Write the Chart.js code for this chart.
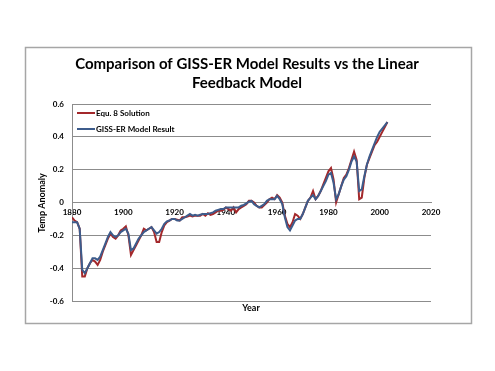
<!DOCTYPE html>
<html>
<head>
<meta charset="utf-8">
<script src="https://cdn.jsdelivr.net/npm/chart.js@4.4.1/dist/chart.umd.min.js"></script>
<style>
html,body{margin:0;padding:0;background:#fff;}
#wrap{width:495px;height:371px;position:relative;}
</style>
</head>
<body>
<div id="wrap"><canvas id="c" width="495" height="371"></canvas></div>
<script>
const years = [];
for (let y = 1880; y <= 2003; y++) years.push(y);

const equ8Solution = [
 -0.09,-0.11,-0.12,-0.16,-0.45,-0.45,-0.40,-0.37,-0.35,-0.36,
 -0.38,-0.35,-0.30,-0.26,-0.22,-0.19,-0.21,-0.22,-0.20,-0.17,
 -0.16,-0.145,-0.20,-0.32,-0.29,-0.26,-0.23,-0.20,-0.16,-0.17,
 -0.16,-0.15,-0.18,-0.24,-0.24,-0.18,-0.14,-0.12,-0.11,-0.10,
 -0.10,-0.105,-0.11,-0.09,-0.09,-0.085,-0.08,-0.085,-0.08,-0.08,
 -0.08,-0.07,-0.08,-0.065,-0.075,-0.07,-0.06,-0.05,-0.05,-0.045,
 -0.03,-0.04,-0.05,-0.03,-0.06,-0.04,-0.03,-0.02,-0.01,0.01,
 0.01,0.0,-0.02,-0.03,-0.03,-0.015,0.0,0.02,0.03,0.02,
 0.045,0.03,0.0,-0.08,-0.13,-0.15,-0.12,-0.07,-0.08,-0.10,
 -0.07,-0.03,0.01,0.03,0.07,0.02,0.04,0.07,0.11,0.15,
 0.19,0.21,0.14,0.0,0.05,0.10,0.15,0.17,0.21,0.26,
 0.31,0.26,0.02,0.03,0.15,0.23,0.27,0.31,0.35,0.37,
 0.40,0.43,0.46,0.49
];

const gissERModel = [
 -0.12,-0.12,-0.12,-0.16,-0.41,-0.43,-0.40,-0.37,-0.34,-0.34,
 -0.35,-0.33,-0.29,-0.25,-0.21,-0.18,-0.20,-0.21,-0.20,-0.18,
 -0.17,-0.16,-0.19,-0.29,-0.28,-0.25,-0.22,-0.20,-0.18,-0.17,
 -0.16,-0.15,-0.17,-0.19,-0.18,-0.16,-0.13,-0.115,-0.11,-0.10,
 -0.10,-0.11,-0.11,-0.10,-0.09,-0.08,-0.07,-0.08,-0.075,-0.08,
 -0.075,-0.07,-0.07,-0.07,-0.065,-0.06,-0.05,-0.045,-0.04,-0.04,
 -0.03,-0.03,-0.03,-0.03,-0.03,-0.03,-0.02,-0.015,-0.005,0.005,
 0.01,-0.01,-0.02,-0.03,-0.02,-0.01,0.01,0.02,0.02,0.02,
 0.04,0.02,-0.01,-0.09,-0.15,-0.17,-0.14,-0.11,-0.10,-0.10,
 -0.07,-0.03,0.01,0.03,0.045,0.02,0.04,0.07,0.10,0.13,
 0.17,0.18,0.12,0.02,0.05,0.10,0.14,0.16,0.20,0.25,
 0.28,0.25,0.07,0.08,0.16,0.23,0.28,0.32,0.36,0.40,
 0.43,0.45,0.47,0.49
];

const xTicks = [1880, 1900, 1920, 1940, 1960, 1980, 2000, 2020];
const yTicks = [-0.6, -0.4, -0.2, 0, 0.2, 0.4, 0.6];

const seriesNames = ['Equ. 8 Solution', 'GISS-ER Model Result'];
const titleLines = ['Comparison of GISS-ER Model Results vs the Linear', 'Feedback Model'];
const xTitle = 'Year';
const yTitle = 'Temp Anomaly';

const RED = '#A3282B';
const BLUE = '#3D5C8C';
const GRID = '#8C8C8C';

const decor = {
  id: 'decor',
  beforeDraw(chart) {
    const ctx = chart.ctx;
    ctx.save();
    ctx.fillStyle = '#fff';
    ctx.fillRect(0, 0, chart.width, chart.height);
    ctx.strokeStyle = '#A6A6A6';
    ctx.lineWidth = 1.5;
    ctx.strokeRect(25.5, 47.5, 446, 276);
    ctx.restore();
  },
  afterDraw(chart) {
    const ctx = chart.ctx;
    ctx.save();
    ctx.fillStyle = '#000';
    ctx.textAlign = 'center';
    ctx.textBaseline = 'middle';
    ctx.font = 'bold 15px Lato';
    ctx.fillText(titleLines[0], 247, 64);
    ctx.fillText(titleLines[1], 247, 83);
    ctx.font = 'bold 9px Lato';
    ctx.fillText(xTitle, 251, 308);
    ctx.save();
    ctx.translate(42, 203);
    ctx.rotate(-Math.PI / 2);
    ctx.fillText(yTitle, 0, 0);
    ctx.restore();
    // legend
    const items = chart.data.datasets;
    const rows = [113, 129];
    ctx.textAlign = 'left';
    ctx.font = 'bold 8px Lato';
    items.forEach((ds, i) => {
      ctx.strokeStyle = ds.borderColor;
      ctx.lineWidth = 2;
      ctx.beginPath();
      ctx.moveTo(77, rows[i]);
      ctx.lineTo(95, rows[i]);
      ctx.stroke();
      ctx.fillStyle = '#000';
      ctx.fillText(ds.label, 96, rows[i]);
    });
    ctx.restore();
  }
};

new Chart(document.getElementById('c'), {
  type: 'line',
  data: {
    datasets: [
      { label: seriesNames[0], data: years.map((y, i) => ({x: y, y: equ8Solution[i]})),
        borderColor: RED, backgroundColor: RED, borderWidth: 2, pointRadius: 0, tension: 0, order: 2 },
      { label: seriesNames[1], data: years.map((y, i) => ({x: y, y: gissERModel[i]})),
        borderColor: BLUE, backgroundColor: BLUE, borderWidth: 2, pointRadius: 0, tension: 0, order: 1 }
    ]
  },
  options: {
    responsive: false,
    animation: false,
    layout: { padding: { top: 104, bottom: 70, right: 64, left: 0 } },
    plugins: { legend: { display: false }, title: { display: false }, tooltip: { enabled: false } },
    scales: {
      x: {
        type: 'linear', min: 1880, max: 2020, position: { y: 0 },
        afterBuildTicks: s => { s.ticks = xTicks.map(v => ({ value: v })); },
        grid: { display: false, drawTicks: false },
        border: { display: true, color: GRID, width: 1 },
        ticks: { color: '#000', font: { family: 'Lato', size: 8, weight: 'bold' }, padding: 5, maxRotation: 0,
          callback: v => String(v) }
      },
      y: {
        type: 'linear', min: -0.6, max: 0.6,
        afterBuildTicks: s => { s.ticks = yTicks.map(v => ({ value: v })); },
        afterFit: s => { s.width = 72; },
        grid: { color: GRID, lineWidth: 1, drawTicks: false },
        border: { display: true, color: GRID, width: 1 },
        ticks: { color: '#000', font: { family: 'Lato', size: 8, weight: 'bold' }, padding: 8,
          callback: v => String(Math.round(v * 10) / 10) }
      }
    }
  },
  plugins: [decor]
});
</script>
</body>
</html>
